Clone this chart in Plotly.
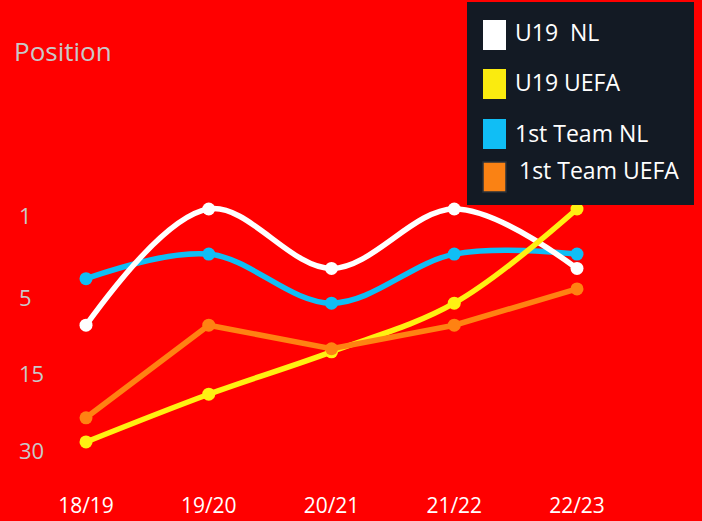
import plotly.graph_objects as go
import numpy as np

# ---------------- data ----------------
SEASONS = ["18/19", "19/20", "20/21", "21/22", "22/23"]
SERIES_NAMES = ["U19  NL", "U19 UEFA", "1st Team NL", "1st Team UEFA"]
U19_NL = [9.5, 1, 3.9, 1, 3.9]
U19_UEFA = [29.6, 20.3, 13, 6.6, 1]
FIRST_NL = [4.4, 3.2, 6.6, 3.2, 3.2]
FIRST_UEFA = [24.9, 9.5, 12.6, 9.5, 4.9]
Y_TICKS = [1, 5, 15, 30]
Y_LABEL = "Position"

# non-linear position scale (tick value -> axis units)
SCALE_BREAKS = [0, 82, 158, 235]


def scale(vals):
    return list(np.interp(vals, Y_TICKS, SCALE_BREAKS))


W, H = 702, 521
L, R, T, B = 55, 0, 0, 40
PW, PH = W - L - R, H - T - B


def pxx(px):
    return (px - L) / PW


def pxy(py):
    return 1 - (py - T) / PH


COLORS = {
    "U19  NL": "#FFFFFF",
    "U19 UEFA": "#FFF012",
    "1st Team NL": "#10BEF5",
    "1st Team UEFA": "#FF8212",
}
SWATCH = {
    "U19  NL": "#FFFFFF",
    "U19 UEFA": "#FAEB0F",
    "1st Team NL": "#10BEF5",
    "1st Team UEFA": "#FA8214",
}
DATA = {
    "U19  NL": (U19_NL, "spline"),
    "U19 UEFA": (U19_UEFA, "spline"),
    "1st Team NL": (FIRST_NL, "spline"),
    "1st Team UEFA": (FIRST_UEFA, "linear"),
}

FONT = "Open Sans, Noto Sans, sans-serif"

fig = go.Figure()
for name in ["1st Team NL", "U19  NL", "U19 UEFA", "1st Team UEFA"]:
    vals, shape = DATA[name]
    fig.add_trace(go.Scatter(
        x=SEASONS, y=scale(vals), name=name, mode="lines+markers",
        line=dict(color=COLORS[name], width=5.5, shape=shape, smoothing=1),
        marker=dict(color=COLORS[name], size=13),
        showlegend=False, cliponaxis=False,
    ))

x0 = -31 / 122.75
x1 = x0 + PW / 122.75

fig.update_xaxes(
    type="category", range=[x0, x1], showgrid=False, zeroline=False,
    showline=False, ticks="outside", ticklen=6, tickcolor="rgba(0,0,0,0)",
    tickfont=dict(family=FONT, size=21, color="#FFFFFF"),
)
fig.update_yaxes(
    range=[PH - 209, -209], showgrid=False, zeroline=False, showline=False,
    showticklabels=False, ticks="",
)

annotations = []
# y tick labels (left aligned)
for v in Y_TICKS:
    annotations.append(dict(
        x=pxx(17), xref="paper", y=scale([v])[0], yref="y", yshift=-6,
        text=str(v), showarrow=False, xanchor="left", yanchor="middle",
        font=dict(family=FONT, size=22, color="#C8C8C8"),
    ))
# axis title
annotations.append(dict(
    x=pxx(12), xref="paper", y=pxy(51), yref="paper", text=Y_LABEL,
    showarrow=False, xanchor="left", yanchor="middle",
    font=dict(family=FONT, size=26, color="#C8C8C8"),
))

shapes = [dict(
    type="rect", xref="paper", yref="paper", layer="above",
    x0=pxx(467), x1=pxx(694), y0=pxy(205), y1=pxy(2),
    fillcolor="#131A24", line=dict(width=0),
)]
sw_y = [(20, 50), (69, 99), (119, 149), (162, 192)]
txt_y = [32, 82, 133, 170]
txt_x = [513, 513, 513, 517]
for name, (ya, yb), ty, tx in zip(SERIES_NAMES, sw_y, txt_y, txt_x):
    shapes.append(dict(
        type="rect", xref="paper", yref="paper", layer="above",
        x0=pxx(483), x1=pxx(506), y0=pxy(yb), y1=pxy(ya),
        fillcolor=SWATCH[name],
        line=dict(width=1.5 if name == "1st Team UEFA" else 0, color="#2A3038"),
    ))
    annotations.append(dict(
        x=pxx(tx), xref="paper", y=pxy(ty), yref="paper", text=name.replace("  ", "&nbsp; "),
        showarrow=False, xanchor="left", yanchor="middle",
        font=dict(family=FONT, size=23, color="#FFFFFF"),
    ))

fig.update_layout(
    width=W, height=H, margin=dict(l=L, r=R, t=T, b=B),
    paper_bgcolor="#FF0000", plot_bgcolor="#FF0000",
    showlegend=False, shapes=shapes, annotations=annotations,
)

fig.write_html("out.html")
